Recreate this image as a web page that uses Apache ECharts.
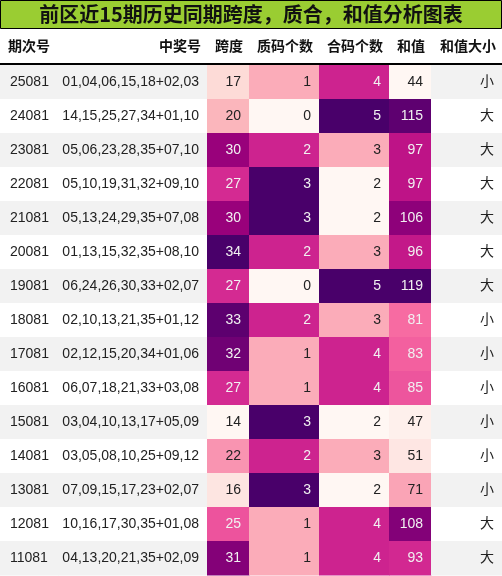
<!DOCTYPE html><html><head><meta charset="utf-8">
<script src="https://cdn.jsdelivr.net/npm/echarts@6/dist/echarts.min.js"></script>
<style>html,body{margin:0;padding:0;background:#fff}#c{width:502px;height:576px}</style></head><body><div id="c"></div>
<script>
const periods=['25081','24081','23081','22081','21081','20081','19081','18081','17081','16081','15081','14081','13081','12081','11081'];
const numbers=['01,04,06,15,18+02,03','14,15,25,27,34+01,10','05,06,23,28,35+07,10','05,10,19,31,32+09,10','05,13,24,29,35+07,08','01,13,15,32,35+08,10','06,24,26,30,33+02,07','02,10,13,21,35+01,12','02,12,15,20,34+01,06','06,07,18,21,33+03,08','03,04,10,13,17+05,09','03,05,08,10,25+09,12','07,09,15,17,23+02,07','10,16,17,30,35+01,08','04,13,20,21,35+02,09'];
const span=[17,20,30,27,30,34,27,33,32,27,14,22,16,25,31];
const primeCnt=[1,0,2,3,3,2,0,2,1,1,3,2,3,1,1];
const compCnt=[4,5,3,2,2,3,5,3,4,4,2,3,2,4,4];
const sums=[44,115,97,97,106,96,119,81,83,85,47,51,71,108,93];
const sizes=['小','大','大','大','大','大','大','小','小','小','小','小','小','大','大'];
const headers=['期次号','中奖号','跨度','质码个数','合码个数','和值','和值大小'];
const title='前区近15期历史同期跨度，质合，和值分析图表';

const edges=[0,58,207,249,319,389,431,502];
const stops=['#fff7f3','#fde0dd','#fcc5c0','#fa9fb5','#f768a1','#dd3497','#ae017e','#7a0177','#49006a'];
function hex(h){return [1,3,5].map(i=>parseInt(h.substr(i,2),16));}
function cmap(t){t=Math.max(0,Math.min(1,t));const p=t*(stops.length-1);const i=Math.min(stops.length-2,Math.floor(p));const f=p-i;const a=hex(stops[i]),b=hex(stops[i+1]);return a.map((v,k)=>Math.round(v+(b[k]-v)*f));}
function lum(c){const l=c.map(v=>{v/=255;return v<=0.03928?v/12.92:Math.pow((v+0.055)/1.055,2.4)});return 0.2126*l[0]+0.7152*l[1]+0.0722*l[2];}
const heatCols=[[2,span],[3,primeCnt],[4,compCnt],[5,sums]];
const data=[],labels=[];
periods.forEach((p,r)=>{
  data.push([0,r]);labels.push(p);
  data.push([1,r]);labels.push(numbers[r]);
  heatCols.forEach(([c,arr])=>{data.push([c,r,arr[r]]);labels.push(arr[r]);});
  data.push([6,r]);labels.push(sizes[r]);
});
const ranges={};heatCols.forEach(([c,arr])=>ranges[c]=[Math.min(...arr),Math.max(...arr)]);
const font='14px "Liberation Sans","Noto Sans CJK SC",sans-serif';
const chart=echarts.init(document.getElementById('c'));
const headerEls=headers.map((h,i)=>({type:'text',left:i===0?8:undefined,right:i===0?undefined:502-edges[i+1]+6,top:40,
  style:{text:h,font:'bold 14px "Liberation Sans","Noto Sans CJK SC",sans-serif',fill:'#111',textAlign:i===0?'left':'right'}}));
chart.setOption({
  animation:false,
  grid:{left:0,right:0,top:65,bottom:1},
  xAxis:{type:'value',min:0,max:502,show:false},
  yAxis:{type:'category',data:periods,inverse:true,show:false},
  graphic:[
    {type:'rect',shape:{x:0.5,y:0.5,width:501,height:28},style:{fill:'#9acd32',stroke:'#000',lineWidth:1}},
    {type:'text',left:'center',top:4,style:{text:title,font:'bold 20px "Noto Sans CJK SC",serif',fill:'#111'}},
    {type:'line',shape:{x1:0,y1:64,x2:502,y2:64},style:{stroke:'#000',lineWidth:2}}
  ].concat(headerEls),
  series:[{type:'custom',data:data,encode:{x:0,y:1},
    renderItem:function(params,api){
      const c=api.value(0),r=api.value(1);const v=labels[params.dataIndex];
      const a=api.coord([edges[c],r]);const b=api.coord([edges[c+1],r]);
      const h=api.size([0,1])[1];const y0=a[1]-h/2;
      let fill=(r%2===0)?'#f2f2f2':'#ffffff',tc='#222';
      if(ranges[c]){const [mn,mx]=ranges[c];const col=cmap((v-mn)/(mx-mn));fill='rgb('+col.join(',')+')';if(lum(col)<0.408)tc='#f1f1f1';}
      const right=c!==0;
      return {type:'group',children:[
        {type:'rect',shape:{x:a[0],y:y0,width:b[0]-a[0]+0.5,height:h+0.5},style:{fill:fill}},
        {type:'text',style:{text:String(v),x:right?b[0]-8:a[0]+10,y:a[1],textAlign:right?'right':'left',textVerticalAlign:'middle',font:font,fill:tc}}
      ]};
    }}]
});
</script></body></html>
